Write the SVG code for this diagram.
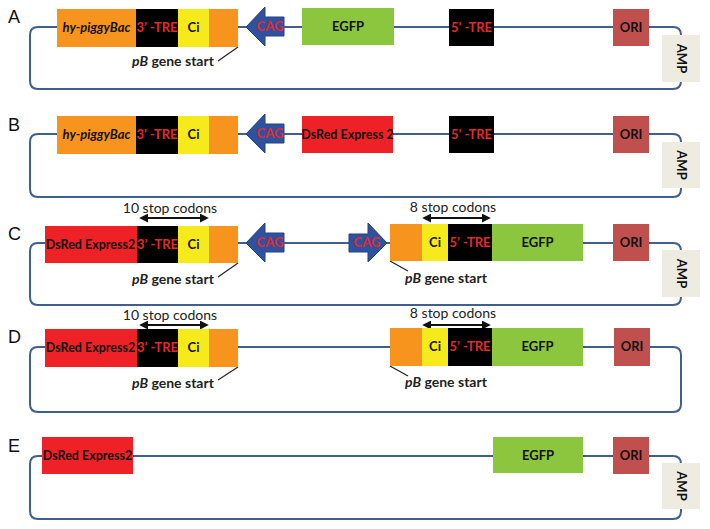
<svg xmlns="http://www.w3.org/2000/svg" width="710" height="529" viewBox="0 0 710 529">
<defs>
<style>
.loop{fill:none;stroke:#3f5f8c;stroke-width:2}
.lead{stroke:#222;stroke-width:1.2}
.dbl{stroke:#111;stroke-width:2;marker-start:url(#ah);marker-end:url(#ah)}
.or{fill:#f7941d}.bk{fill:#000}.ye{fill:#f7ea1c}.gr{fill:#8cc63f}.rd{fill:#ee2226}.ori{fill:#c0504d}.amp{fill:#eeece1}
.cag{fill:#2f52a0;stroke:#24427f;stroke-width:1}
.t{font-family:Lato,"Open Sans",sans-serif;font-weight:bold;font-size:13px;text-anchor:middle;fill:#111}
.ds{font-size:12.5px}
.tr{fill:#e02a2a}
.it{font-style:italic}
.pb{font-family:Lato,"Open Sans",sans-serif;font-weight:bold;font-size:14px;text-anchor:middle;fill:#222}
.sc{font-family:Lato,"Open Sans",sans-serif;font-size:14px;text-anchor:middle;fill:#222}
.lab{font-family:"Liberation Sans",Arial,sans-serif;font-size:18px;fill:#111}
</style>
<marker id="ah" viewBox="0 0 10 10" refX="8" refY="5" markerWidth="4.5" markerHeight="4.5" orient="auto-start-reverse"><path d="M0,0 L10,5 L0,10 z" fill="#111"/></marker>
</defs>

<g id="connectors">
<path class="loop" d="M38,27 H673 Q681,27 681,35 V81 Q681,89 673,89 H38 Q30,89 30,81 V35 Q30,27 38,27 Z"/>
<path class="loop" d="M38,134 H673 Q681,134 681,142 V189 Q681,197 673,197 H38 Q30,197 30,189 V142 Q30,134 38,134 Z"/>
<path class="loop" d="M38,243 H673 Q681,243 681,251 V297 Q681,305 673,305 H38 Q30,305 30,297 V251 Q30,243 38,243 Z"/>
<path class="loop" d="M38,347 H673 Q681,347 681,355 V404 Q681,412 673,412 H38 Q30,412 30,404 V355 Q30,347 38,347 Z"/>
<path class="loop" d="M38,456 H673 Q681,456 681,464 V511 Q681,519 673,519 H38 Q30,519 30,511 V464 Q30,456 38,456 Z"/>
<line class="lead" x1="238" y1="47" x2="218" y2="61"/>
<line class="lead" x1="238" y1="263" x2="218" y2="277"/>
<line class="lead" x1="390" y1="261" x2="408" y2="271"/>
<line class="lead" x1="238" y1="367" x2="218" y2="380"/>
<line class="lead" x1="390" y1="366" x2="408" y2="376"/>
<line class="dbl" x1="141" y1="218" x2="207" y2="218"/>
<line class="dbl" x1="424" y1="218" x2="489" y2="218"/>
<line class="dbl" x1="141" y1="325" x2="207" y2="325"/>
<line class="dbl" x1="424" y1="325" x2="489" y2="325"/>
</g>

<g id="labels">
<text class="lab" x="8" y="23">A</text>
<text class="lab" x="8" y="131">B</text>
<text class="lab" x="8" y="240">C</text>
<text class="lab" x="8" y="343">D</text>
<text class="lab" x="8" y="452">E</text>
</g>

<!-- Row A -->
<g id="A-hypiggyBac"><rect class="or" x="57" y="9" width="79" height="38"/><text class="t it" x="96.5" y="32">hy-piggyBac</text></g>
<g id="A-3TRE"><rect class="bk" x="136" y="9" width="42" height="38"/><text class="t tr" x="157" y="32">3’ -TRE</text></g>
<g id="A-Ci"><rect class="ye" x="178" y="9" width="31" height="38"/><text class="t" x="193.5" y="32">Ci</text></g>
<g id="A-pB"><rect class="or" x="209" y="9" width="29" height="38"/></g>
<g id="A-CAG"><polygon class="cag" points="246,27 265,7 265,17 284,17 284,36 265,36 265,46"/><text class="t tr" x="270" y="31">CAG</text></g>
<g id="A-EGFP"><rect class="gr" x="302" y="8" width="92" height="37"/><text class="t" x="348" y="31">EGFP</text></g>
<g id="A-5TRE"><rect class="bk" x="449" y="9" width="45" height="37"/><text class="t tr" x="471.5" y="32">5’ -TRE</text></g>
<g id="A-ORI"><rect class="ori" x="613" y="9" width="36" height="37"/><text class="t" x="631" y="32">ORI</text></g>
<g id="A-AMP"><rect class="amp" x="662" y="35" width="38" height="47"/><text class="t" transform="translate(677,58.5) rotate(90)" x="0" y="0">AMP</text></g>
<g id="A-pBtext"><text class="pb" x="173" y="66"><tspan class="it">pB</tspan> gene start</text></g>

<!-- Row B -->
<g id="B-hypiggyBac"><rect class="or" x="57" y="116" width="79" height="38"/><text class="t it" x="96.5" y="139">hy-piggyBac</text></g>
<g id="B-3TRE"><rect class="bk" x="136" y="116" width="42" height="38"/><text class="t tr" x="157" y="139">3’ -TRE</text></g>
<g id="B-Ci"><rect class="ye" x="178" y="116" width="31" height="38"/><text class="t" x="193.5" y="139">Ci</text></g>
<g id="B-pB"><rect class="or" x="209" y="116" width="29" height="38"/></g>
<g id="B-CAG"><polygon class="cag" points="246,134 265,114 265,124 284,124 284,143 265,143 265,153"/><text class="t tr" x="270" y="138">CAG</text></g>
<g id="B-DsRed"><rect class="rd" x="302" y="116" width="91" height="37"/><text class="t ds" x="347.5" y="139">DsRed Express 2</text></g>
<g id="B-5TRE"><rect class="bk" x="449" y="116" width="45" height="37"/><text class="t tr" x="471.5" y="139">5’ -TRE</text></g>
<g id="B-ORI"><rect class="ori" x="613" y="116" width="36" height="37"/><text class="t" x="631" y="139">ORI</text></g>
<g id="B-AMP"><rect class="amp" x="662" y="142" width="38" height="46"/><text class="t" transform="translate(677,165) rotate(90)" x="0" y="0">AMP</text></g>

<!-- Row C -->
<g id="C-stop10"><text class="sc" x="170" y="213">10 stop codons</text></g>
<g id="C-stop8"><text class="sc" x="453" y="212">8 stop codons</text></g>
<g id="C-DsRed"><rect class="rd" x="45" y="226" width="92" height="37"/><text class="t ds" x="90.5" y="249">DsRed Express2</text></g>
<g id="C-3TRE"><rect class="bk" x="137" y="226" width="41" height="37"/><text class="t tr" x="157.5" y="249">3’ -TRE</text></g>
<g id="C-Ci"><rect class="ye" x="178" y="226" width="31" height="37"/><text class="t" x="193.5" y="249">Ci</text></g>
<g id="C-pB"><rect class="or" x="209" y="226" width="29" height="37"/></g>
<g id="C-CAG1"><polygon class="cag" points="246,243 265,223 265,233 284,233 284,252 265,252 265,262"/><text class="t tr" x="270" y="247">CAG</text></g>
<g id="C-CAG2"><polygon class="cag" points="387,243 368,223 368,234 349,234 349,252 368,252 368,262"/><text class="t tr" x="367" y="247">CAG</text></g>
<g id="C-pB2"><rect class="or" x="390" y="224" width="32" height="37"/></g>
<g id="C-Ci2"><rect class="ye" x="422" y="224" width="26" height="37"/><text class="t" x="435" y="247">Ci</text></g>
<g id="C-5TRE"><rect class="bk" x="448" y="224" width="44" height="37"/><text class="t tr" x="470" y="247">5’ -TRE</text></g>
<g id="C-EGFP"><rect class="gr" x="492" y="224" width="91" height="37"/><text class="t" x="537.5" y="247">EGFP</text></g>
<g id="C-ORI"><rect class="ori" x="613" y="224" width="36" height="37"/><text class="t" x="631" y="247">ORI</text></g>
<g id="C-AMP"><rect class="amp" x="662" y="250" width="38" height="47"/><text class="t" transform="translate(677,273.5) rotate(90)" x="0" y="0">AMP</text></g>
<g id="C-pBtext"><text class="pb" x="173" y="284"><tspan class="it">pB</tspan> gene start</text></g>
<g id="C-pBtext2"><text class="pb" x="446" y="283"><tspan class="it">pB</tspan> gene start</text></g>

<!-- Row D -->
<g id="D-stop10"><text class="sc" x="170" y="320">10 stop codons</text></g>
<g id="D-stop8"><text class="sc" x="453" y="318">8 stop codons</text></g>
<g id="D-DsRed"><rect class="rd" x="45" y="329" width="92" height="38"/><text class="t ds" x="90.5" y="352">DsRed Express2</text></g>
<g id="D-3TRE"><rect class="bk" x="137" y="329" width="41" height="38"/><text class="t tr" x="157.5" y="352">3’ -TRE</text></g>
<g id="D-Ci"><rect class="ye" x="178" y="329" width="31" height="38"/><text class="t" x="193.5" y="352">Ci</text></g>
<g id="D-pB"><rect class="or" x="209" y="329" width="29" height="38"/></g>
<g id="D-pB2"><rect class="or" x="390" y="328" width="32" height="38"/></g>
<g id="D-Ci2"><rect class="ye" x="422" y="328" width="26" height="38"/><text class="t" x="435" y="351">Ci</text></g>
<g id="D-5TRE"><rect class="bk" x="448" y="328" width="44" height="38"/><text class="t tr" x="470" y="351">5’ -TRE</text></g>
<g id="D-EGFP"><rect class="gr" x="492" y="328" width="91" height="38"/><text class="t" x="537.5" y="351">EGFP</text></g>
<g id="D-ORI"><rect class="ori" x="614" y="328" width="36" height="38"/><text class="t" x="632" y="351">ORI</text></g>
<g id="D-pBtext"><text class="pb" x="173" y="388"><tspan class="it">pB</tspan> gene start</text></g>
<g id="D-pBtext2"><text class="pb" x="446" y="387"><tspan class="it">pB</tspan> gene start</text></g>

<!-- Row E -->
<g id="E-DsRed"><rect class="rd" x="42" y="437" width="91" height="37"/><text class="t ds" x="87.5" y="460">DsRed Express2</text></g>
<g id="E-EGFP"><rect class="gr" x="493" y="437" width="90" height="36"/><text class="t" x="538" y="460">EGFP</text></g>
<g id="E-ORI"><rect class="ori" x="613" y="437" width="36" height="37"/><text class="t" x="631" y="460">ORI</text></g>
<g id="E-AMP"><rect class="amp" x="662" y="463" width="38" height="46"/><text class="t" transform="translate(677,486) rotate(90)" x="0" y="0">AMP</text></g>
</svg>
